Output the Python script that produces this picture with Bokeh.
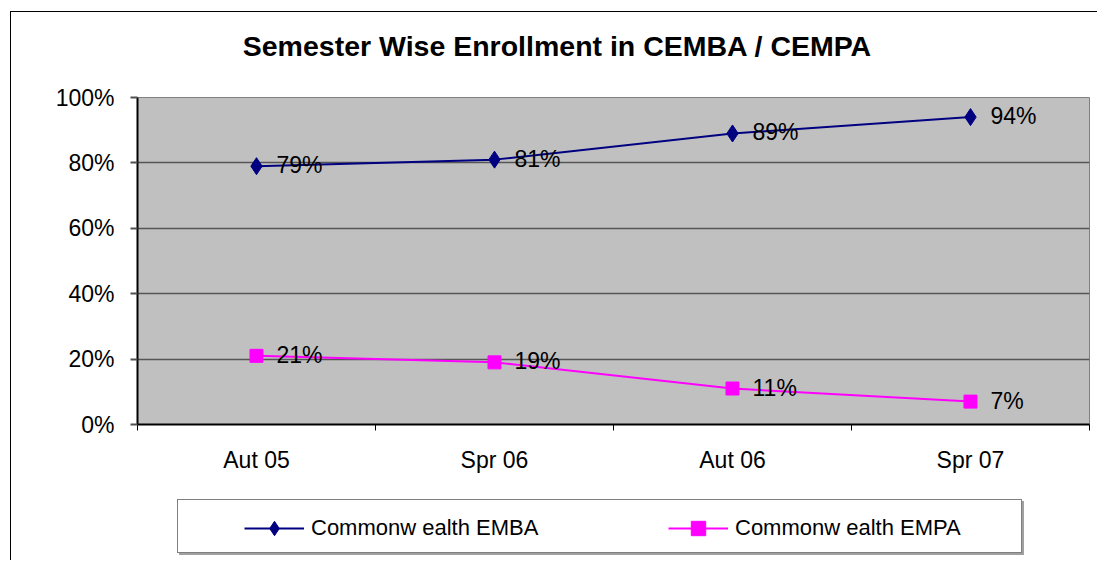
from bokeh.plotting import figure
from bokeh.layouts import column
from bokeh.models import (FixedTicker, NumeralTickFormatter, Label, Legend, LegendItem,
                          ColumnDataSource, Range1d)
from bokeh.core.properties import value
from bokeh.embed import file_html
from bokeh.resources import INLINE
import numpy as np

title_text = "Semester Wise Enrollment in CEMBA / CEMPA"
categories = ["Aut 05", "Spr 06", "Aut 06", "Spr 07"]
emba_name = "Commonw ealth EMBA"
empa_name = "Commonw ealth EMPA"
emba_pct = [79, 81, 89, 94]
empa_pct = [21, 19, 11, 7]
y_ticks = [0, 0.2, 0.4, 0.6, 0.8, 1.0]

FONT = "Liberation Sans"
NAVY = "#000080"
MAGENTA = "#FF00FF"
W = 1086
LEFT = 126
RIGHT = 8
xpos = np.arange(len(categories)) + 0.5


def blank(height):
    f = figure(width=W, height=height, output_backend="svg", toolbar_location=None,
               x_range=Range1d(0, 1), y_range=Range1d(0, 1),
               x_axis_location=None, y_axis_location=None,
               min_border_left=LEFT, min_border_right=RIGHT,
               min_border_top=0, min_border_bottom=0)
    f.grid.visible = False
    f.outline_line_color = None
    f.background_fill_color = "white"
    f.border_fill_color = "white"
    return f


# ---- title strip
top = blank(71)
top.add_layout(Label(x=420, y=38, x_units="screen", y_units="screen", text=title_text,
                     text_font=FONT, text_font_size="28.5px", text_font_style="bold",
                     text_align="center", text_baseline="middle", text_color="black"))

# ---- main chart
p = figure(width=W, height=411, output_backend="svg", toolbar_location=None,
           x_range=(0, len(categories)), y_range=(0, 1),
           min_border_left=LEFT, min_border_top=14, min_border_bottom=70,
           min_border_right=RIGHT, background_fill_color="#C0C0C0",
           border_fill_color="white")
p.outline_line_color = "#808080"
p.outline_line_width = 1

p.xaxis.ticker = FixedTicker(ticks=list(xpos), minor_ticks=list(range(len(categories) + 1)))
p.xaxis.major_label_overrides = {float(x): c for x, c in zip(xpos, categories)}
p.xaxis.major_tick_line_color = None
p.xaxis.minor_tick_line_color = "black"
p.xaxis.minor_tick_out = 6
p.xaxis.minor_tick_in = 0
p.xaxis.axis_line_color = "black"
p.xaxis.axis_line_width = 2
p.xaxis.major_label_text_font = FONT
p.xaxis.major_label_text_font_size = "23px"
p.xaxis.major_label_text_color = "black"
p.xaxis.major_label_standoff = 16

p.yaxis.ticker = FixedTicker(ticks=y_ticks)
p.yaxis.formatter = NumeralTickFormatter(format="0%")
p.yaxis.minor_tick_line_color = None
p.yaxis.major_tick_out = 7
p.yaxis.major_tick_in = 0
p.yaxis.major_tick_line_color = "#505050"
p.yaxis.major_tick_line_width = 2
p.yaxis.axis_line_color = "black"
p.yaxis.axis_line_width = 2
p.yaxis.major_label_text_font = FONT
p.yaxis.major_label_text_font_size = "23px"
p.yaxis.major_label_text_color = "black"
p.yaxis.major_label_standoff = 16

p.xgrid.grid_line_color = None
p.ygrid.ticker = FixedTicker(ticks=y_ticks)
p.ygrid.grid_line_color = "#555555"
p.ygrid.grid_line_width = 1.5

emba_y = [v / 100 for v in emba_pct]
empa_y = [v / 100 for v in empa_pct]
src1 = ColumnDataSource(dict(x=xpos, y=emba_y, t=[f"{v}%" for v in emba_pct]))
src2 = ColumnDataSource(dict(x=xpos, y=empa_y, t=[f"{v}%" for v in empa_pct]))

p.line("x", "y", source=src1, line_color=NAVY, line_width=2)
p.scatter("x", "y", source=src1, marker="diamond", size=17, fill_color=NAVY, line_color=NAVY)
p.line("x", "y", source=src2, line_color=MAGENTA, line_width=2)
p.scatter("x", "y", source=src2, marker="square", size=13, fill_color=MAGENTA,
          line_color=MAGENTA)

for s in (src1, src2):
    p.text("x", "y", text="t", source=s, x_offset=20, y_offset=-1,
           text_font=value(FONT), text_font_size="23px", text_color="black",
           text_baseline="middle", text_align="left")

# ---- legend strip (legend samples use hidden one-point renderers)
lg = blank(66)
hidden = dict(x=[float("nan")], y=[float("nan")])
dl1 = lg.line("x", "y", source=ColumnDataSource(hidden), line_color=NAVY, line_width=2)
dm1 = lg.scatter("x", "y", source=ColumnDataSource(hidden), marker="diamond", size=17,
                 fill_color=NAVY, line_color=NAVY)
dl2 = lg.line("x", "y", source=ColumnDataSource(hidden), line_color=MAGENTA, line_width=2)
dm2 = lg.scatter("x", "y", source=ColumnDataSource(hidden), marker="square", size=13,
                 fill_color=MAGENTA, line_color=MAGENTA)
dummy = lg.scatter("x", "y", source=ColumnDataSource(hidden), marker="circle", alpha=0)


def frame_box(loc, line_color, fill_color):
    return Legend(items=[LegendItem(label=" ", renderers=[dummy])], location=loc,
                  padding=0, margin=0, spacing=0, glyph_width=1, glyph_height=52,
                  label_width=842, label_height=52, label_standoff=0,
                  border_line_color=line_color, border_line_width=1.5,
                  background_fill_color=fill_color, background_fill_alpha=1)


lg.add_layout(frame_box((42, 5), "#A0A0A0", "#A0A0A0"), "center")
lg.add_layout(frame_box((40, 7), "black", "white"), "center")

leg = Legend(items=[LegendItem(label=emba_name, renderers=[dl1, dm1]),
                    LegendItem(label=empa_name, renderers=[dl2, dm2])],
             location=(107, 14), orientation="horizontal",
             padding=0, margin=0, spacing=127, glyph_width=60, glyph_height=36,
             label_width=230, label_height=36, label_standoff=7,
             label_text_font=FONT, label_text_font_size="22px", label_text_color="black",
             border_line_alpha=0, background_fill_alpha=0)
lg.add_layout(leg, "center")

layout = column(top, p, lg, spacing=0)
layout.styles = {"border-left": "1.5px solid black", "border-top": "1.5px solid black",
                 "margin-left": "10px", "margin-top": "11px"}

open("out.html", "w").write(file_html(layout, INLINE))
